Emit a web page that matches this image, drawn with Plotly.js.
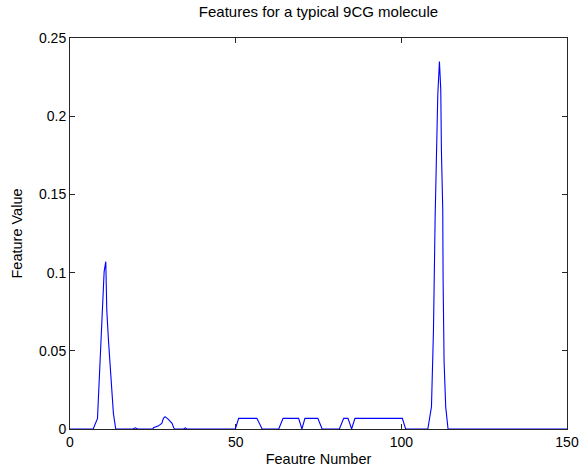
<!DOCTYPE html>
<html>
<head>
<meta charset="utf-8">
<script src="https://cdn.plot.ly/plotly-3.0.1.min.js"></script>
<style>html,body{margin:0;padding:0;background:#fff;}#chart{width:580px;height:467px;}</style>
</head>
<body>
<div id="chart"></div>
<script>
// Feature index (x) and feature value (y)
const featureNumber = [
  0, 7.0, 8.3, 8.8, 9.3, 9.8, 10.3, 10.8, 11.1, 11.6, 12.1, 12.6, 13.1, 13.8,
  19.0, 19.7, 20.4,
  25.0, 25.2, 26.7, 27.7, 28.2, 28.7, 29.7, 30.8, 31.3, 31.6,
  34.3, 34.8, 35.3,
  49.9, 50.9, 56.4, 58.0,
  63.0, 64.3, 69.0, 70.0, 70.9, 74.8, 76.1,
  81.3, 82.6, 83.9, 85.0, 86.0, 100.3, 101.3,
  108.0, 109.1, 109.7, 110.2, 110.6, 111.0, 111.5, 111.9, 112.1, 112.5, 112.6, 112.9, 113.4, 114.1,
  150
];
const featureValue = [
  0, 0, 0.0068, 0.033, 0.055, 0.076, 0.1006, 0.107, 0.076, 0.057, 0.040, 0.025, 0.010, 0,
  0, 0.0008, 0,
  0, 0.0008, 0.002, 0.0036, 0.0068, 0.0079, 0.0062, 0.0036, 0.0008, 0,
  0, 0.0007, 0,
  0, 0.0068, 0.0068, 0,
  0, 0.0068, 0.0068, 0, 0.0068, 0.0068, 0,
  0, 0.0068, 0.0068, 0, 0.0068, 0.0068, 0,
  0, 0.0143, 0.063, 0.135, 0.176, 0.2136, 0.235, 0.217, 0.178, 0.140, 0.097, 0.043, 0.014, 0,
  0
];
const xTicks = [0, 50, 100, 150];
const yTicks = [0, 0.05, 0.1, 0.15, 0.2, 0.25];
const yTickText = ['0', '0.05', '0.1', '0.15', '0.2', '0.25'];

const FONT = 'Liberation Sans, Arial, sans-serif';

const trace = {
  x: featureNumber,
  y: featureValue,
  type: 'scatter',
  mode: 'lines',
  line: {color: '#0000ff', width: 1.1},
  hoverinfo: 'skip'
};

const axisCommon = {
  showline: true,
  linecolor: '#262626',
  linewidth: 1,
  mirror: 'ticks',
  ticks: 'inside',
  ticklen: 5,
  tickcolor: '#262626',
  showgrid: false,
  zeroline: false,
  layer: 'below traces',
  tickfont: {family: FONT, size: 14, color: '#000'}
};

const layout = {
  width: 580,
  height: 467,
  margin: {l: 70, r: 13, t: 38, b: 38},
  paper_bgcolor: '#fff',
  plot_bgcolor: '#fff',
  showlegend: false,
  title: {
    text: 'Features for a typical 9CG molecule',
    font: {family: FONT, size: 15, color: '#000'},
    x: 0.5, xref: 'paper', xanchor: 'center', y: 0.974, yanchor: 'middle'
  },
  xaxis: Object.assign({}, axisCommon, {
    range: [0, 150],
    tickvals: xTicks,
    ticktext: xTicks.map(String),
    title: {text: 'Feautre Number', standoff: 5,
      font: {family: FONT, size: 14.5, color: '#000'}}
  }),
  yaxis: Object.assign({}, axisCommon, {
    range: [0, 0.25],
    tickvals: yTicks,
    ticktext: yTickText,
    title: {text: 'Feature Value', standoff: 12,
      font: {family: FONT, size: 14.5, color: '#000'}}
  })
};

Plotly.newPlot('chart', [trace], layout, {displayModeBar: false, staticPlot: true});
</script>
</body>
</html>
